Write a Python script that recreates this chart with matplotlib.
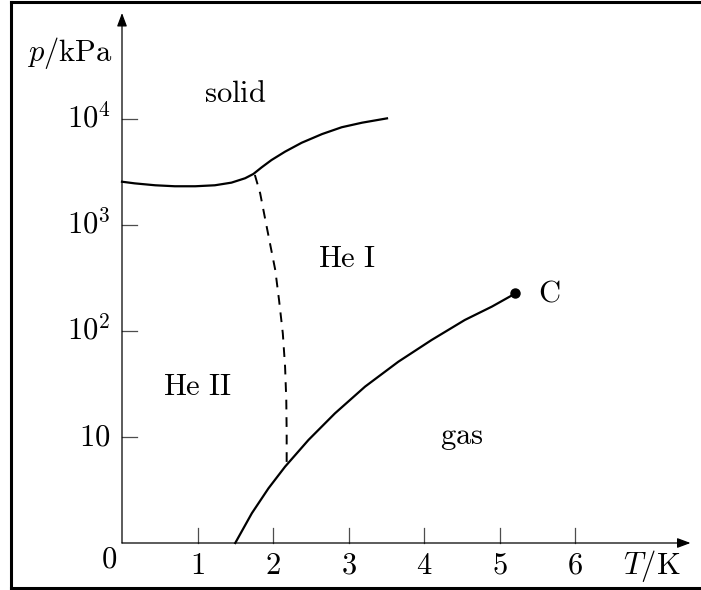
import numpy as np
import matplotlib.pyplot as plt

plt.rcParams['mathtext.fontset'] = 'cm'
plt.rcParams['font.family'] = 'serif'

# phase boundaries of helium-4, T in K, p in kPa (drawn on a log scale, "0" = 1 kPa)
melt_T = [0.0, 0.17, 0.44, 0.70, 0.97, 1.23, 1.45, 1.63, 1.74, 1.85, 1.98,
          2.16, 2.38, 2.65, 2.91, 3.18, 3.51]
melt_p = [2560, 2470, 2370, 2320, 2320, 2370, 2510, 2760, 3030, 3500, 4100,
          4920, 5970, 7210, 8360, 9230, 10140]

lambda_T = [1.76, 1.83, 1.89, 1.96, 2.03, 2.08, 2.13, 2.16, 2.176, 2.181, 2.181]
lambda_p = [2965, 1990, 1200, 671, 376, 196, 95, 46, 22.3, 10.8, 5.65]

vapor_T = [1.50, 1.72, 1.94, 2.16, 2.47, 2.82, 3.22, 3.66, 4.10, 4.54, 4.90, 5.21]
vapor_p = [1.0, 1.91, 3.28, 5.25, 9.38, 16.7, 29.9, 51.3, 82.2, 127, 170, 226]

crit_T, crit_p = 5.21, 226

x_ticks = [1, 2, 3, 4, 5, 6]
y_ticks = [10, 100, 1000, 10000]
y_labels = ['$10$', '$10^2$', '$10^3$', '$10^4$']

regions = [('solid', 1.5, 4.24), ('He I', 2.98, 2.68), ('He II', 1.0, 1.48), ('gas', 4.5, 1.0)]

fig = plt.figure(figsize=(7.01, 5.90), dpi=100)
ax = fig.add_axes([0, 0, 1, 1])
ax.set_xlim(-122 / 75.5, (701 - 122) / 75.5)
ax.set_ylim(-(590 - 543) / 106, 543 / 106)
ax.axis('off')

fs = 22
lg = np.log10

# axes with arrows
ax.annotate('', xy=(7.53, 0), xytext=(0, 0),
            arrowprops=dict(arrowstyle='-|>,head_length=0.8,head_width=0.3', color='k', lw=0.9, shrinkA=0, shrinkB=0))
ax.annotate('', xy=(0, 5.0), xytext=(0, 0),
            arrowprops=dict(arrowstyle='-|>,head_length=0.8,head_width=0.3', color='k', lw=0.9, shrinkA=0, shrinkB=0))

for t in x_ticks:
    ax.plot([t, t], [0, 0.14], color='0.3', lw=0.9)
    ax.text(t, -0.21, '$%d$' % t, ha='center', va='center', fontsize=fs)
for p, lab in zip(y_ticks, y_labels):
    ax.plot([0, 0.2], [lg(p), lg(p)], color='0.3', lw=0.9)
    ax.text(-0.15, lg(p), lab, ha='right', va='center', fontsize=fs)
ax.text(-0.07, -0.15, '$0$', ha='right', va='center', fontsize=fs)

ax.text(-0.12, 4.62, r'$p/\mathrm{kPa}$', ha='right', va='center', fontsize=fs)
ax.text(7.4, -0.22, r'$T/\mathrm{K}$', ha='right', va='center', fontsize=fs)

ax.plot(melt_T, lg(melt_p), color='k', lw=1.6, solid_joinstyle='round')
ax.plot(lambda_T, lg(lambda_p), color='k', lw=1.4, ls=(0, (5, 4)))
ax.plot(vapor_T, lg(vapor_p), color='k', lw=1.6, solid_joinstyle='round')
ax.plot(crit_T, lg(crit_p), 'o', color='k', ms=6.5)
ax.text(crit_T + 0.3, lg(crit_p), '$\\mathrm{C}$', ha='left', va='center', fontsize=fs)

for name, t, u in regions:
    ax.text(t, u, r'$\mathrm{%s}$' % name.replace(' ', r'\ '), ha='center', va='center', fontsize=fs)

# outer frame
fig.add_artist(plt.Line2D([11 / 701, 11 / 701], [2 / 590, 588 / 590], color='k', lw=2.2))
fig.add_artist(plt.Line2D([11 / 701, 1], [588 / 590, 588 / 590], color='k', lw=2.2))
fig.add_artist(plt.Line2D([11 / 701, 1], [2 / 590, 2 / 590], color='k', lw=2.2))

fig.savefig('out.png', dpi=100)
